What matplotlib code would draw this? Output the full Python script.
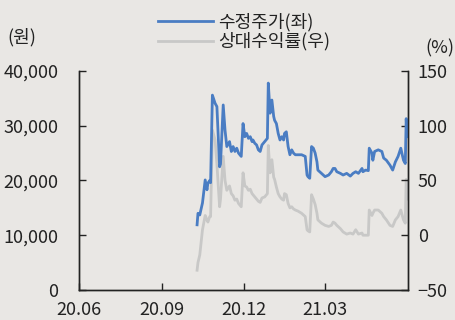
import matplotlib
matplotlib.use('Agg')
import matplotlib.pyplot as plt
import pandas as pd

plt.rcParams['font.family'] = ['Noto Sans CJK KR', 'DejaVu Sans']

# dates shared by both series
dates = [
    '2020-10-10', '2020-10-11', '2020-10-13', '2020-10-16', '2020-10-19', '2020-10-21',
    '2020-10-22', '2020-10-24', '2020-10-25', '2020-10-27', '2020-10-30', '2020-11-01',
    '2020-11-04', '2020-11-05', '2020-11-08', '2020-11-10', '2020-11-12', '2020-11-15',
    '2020-11-17', '2020-11-19', '2020-11-21', '2020-11-23', '2020-11-25', '2020-11-28',
    '2020-11-30', '2020-12-02', '2020-12-04', '2020-12-06', '2020-12-08', '2020-12-10',
    '2020-12-11', '2020-12-13', '2020-12-15', '2020-12-17', '2020-12-19', '2020-12-21',
    '2020-12-24', '2020-12-27', '2020-12-28', '2020-12-30', '2021-01-01', '2021-01-03',
    '2021-01-04', '2021-01-06', '2021-01-08', '2021-01-10', '2021-01-12', '2021-01-14',
    '2021-01-15', '2021-01-17', '2021-01-19', '2021-01-21', '2021-01-23', '2021-01-25',
    '2021-01-27', '2021-01-30', '2021-02-03', '2021-02-07', '2021-02-09', '2021-02-10',
    '2021-02-12', '2021-02-14', '2021-02-16', '2021-02-18', '2021-02-20', '2021-02-21',
    '2021-02-25', '2021-03-01', '2021-03-05', '2021-03-08', '2021-03-10', '2021-03-12',
    '2021-03-14', '2021-03-18', '2021-03-21', '2021-03-25', '2021-03-29', '2021-04-01',
    '2021-04-04', '2021-04-07', '2021-04-11', '2021-04-12', '2021-04-15', '2021-04-18',
    '2021-04-19', '2021-04-22', '2021-04-23', '2021-04-25', '2021-04-29', '2021-05-03',
    '2021-05-05', '2021-05-08', '2021-05-12', '2021-05-15', '2021-05-18', '2021-05-21',
    '2021-05-24', '2021-05-27', '2021-05-29', '2021-05-30', '2021-05-31',
]

# 수정주가 (원), left axis
price = [
    11900, 14000, 13700, 15900, 20100, 18300, 19500, 20000, 19600, 35600, 34100, 33500,
    22500, 23000, 33800, 29200, 26200, 27100, 25300, 26200, 25300, 25900, 25000, 24400,
    30400, 28000, 28600, 27700, 28000, 27100, 27400, 26800, 26500, 25600, 25300, 26500,
    27100, 27700, 37800, 32300, 34700, 31700, 31000, 30400, 28600, 27400, 28000, 27400,
    28600, 28900, 26200, 24700, 25600, 25000, 24700, 24700, 24700, 24400, 21000, 20700,
    20400, 26200, 25900, 25000, 23400, 21900, 21300, 20700, 21000, 21600, 22200, 22200,
    21600, 21300, 21000, 21300, 20800, 21300, 21600, 21300, 22200, 21600, 21900, 21800,
    25900, 25000, 23700, 25300, 25600, 25300, 24100, 23700, 22800, 21900, 23400, 24400,
    25900, 23700, 23100, 31300, 28000,
]

# 상대수익률 (%), right axis
rel_return = [
    -32, -25, -18, 5, 18, 14, 12, 17, 17, 96, 87, 65,
    26, 33, 72, 50, 41, 45, 38, 36, 32, 33, 29, 26,
    57, 45, 44, 41, 42, 38, 37, 35, 33, 31, 30, 34,
    35, 38, 82, 57, 69, 53, 51, 44, 38, 35, 33, 32,
    38, 37, 29, 25, 26, 24, 23, 22, 20, 17, 5, 4,
    3, 37, 33, 28, 20, 14, 11, 9, 8, 9, 12, 11,
    9, 6, 3, 1, 2, 1, 5, 1, 2, 0, 0, 0,
    23, 18, 20, 23, 23, 20, 17, 14, 9, 8, 14, 17,
    23, 14, 11, 51, 33,
]

x_ticks = ['2020-06-01', '2020-09-01', '2020-12-01', '2021-03-01']
x_ticklabels = ['20.06', '20.09', '20.12', '21.03']

BG = '#e9e7e4'
BLUE = '#4a7dc3'
GRAY = '#c8c8c7'
DARK = '#222222'

d = pd.to_datetime(dates)

fig = plt.figure(figsize=(4.55, 3.2), dpi=100)
fig.patch.set_facecolor(BG)
ax = fig.add_axes([0.1736, 0.094, 0.7231, 0.684])
ax.set_facecolor(BG)
ax2 = ax.twinx()

l2, = ax2.plot(d, rel_return, color=GRAY, lw=2.0, label='상대수익률(우)', zorder=1)
l1, = ax.plot(d, price, color=BLUE, lw=2.0, label='수정주가(좌)', zorder=2)
ax.set_zorder(ax2.get_zorder() + 1)
ax.patch.set_visible(False)

ax.set_xlim(pd.Timestamp('2020-06-01'), pd.Timestamp('2021-06-01'))
ax.set_ylim(0, 40000)
ax2.set_ylim(-50, 150)
ax.set_yticks([0, 10000, 20000, 30000, 40000])
ax.set_yticklabels(['0', '10,000', '20,000', '30,000', '40,000'])
ax2.set_yticks([-50, 0, 50, 100, 150])
ax.set_xticks(pd.to_datetime(x_ticks))
ax.set_xticklabels(x_ticklabels)

for a in (ax, ax2):
    a.spines['top'].set_visible(False)
    for s in ('left', 'right', 'bottom'):
        a.spines[s].set_color(DARK)
        a.spines[s].set_linewidth(1.0)
ax.tick_params(axis='y', direction='in', length=5, width=1, color=DARK, labelsize=13, pad=15, labelcolor=DARK)
ax.tick_params(axis='x', direction='in', length=5, width=1, color=DARK, labelsize=13, pad=8, labelcolor=DARK)
ax2.tick_params(axis='y', direction='in', length=5, width=1, color=DARK, labelsize=13, pad=7, labelcolor=DARK)

fig.text(0.016, 0.885, '(원)', fontsize=13, color=DARK, va='center', ha='left')
fig.text(0.935, 0.85, '(%)', fontsize=13, color=DARK, va='center', ha='left')

fig.legend(handles=[l1, l2], loc='center left', bbox_to_anchor=(0.348, 0.9), frameon=False,
           fontsize=13, handlelength=3.0, handletextpad=0.3, labelspacing=0.05,
           borderaxespad=0, borderpad=0, labelcolor=DARK)

fig.savefig('out.png', dpi=100, facecolor=BG)
